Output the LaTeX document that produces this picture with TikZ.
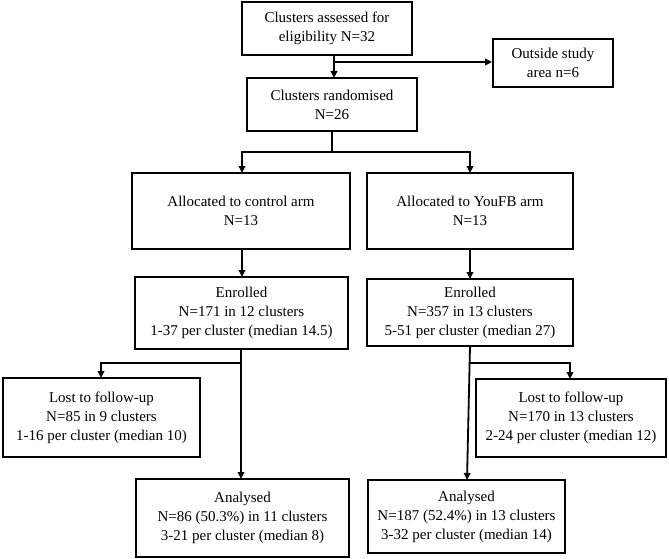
\documentclass[tikz,border=0pt]{standalone}
\usepackage{fontspec}
\setmainfont{Liberation Serif}
\usetikzlibrary{arrows.meta}
\begin{document}
\begin{tikzpicture}[x=1pt,y=-1pt,
  bx/.style={draw,line width=1.8pt,align=center,inner sep=0pt,font=\fontsize{15}{19}\selectfont},
  ar/.style={line width=1.8pt,-{Triangle[length=7pt,width=6.5pt]}},
  ln/.style={line width=1.8pt}]
\useasboundingbox (0,0) rectangle (669,559);
\newcommand\bxat[6]{\node[bx,minimum width=#4-#2,minimum height=#5-#3] (#1) at ({(#2+#4)/2},{(#3+#5)/2}) {#6};}
\bxat{a}{242}{2}{412}{55}{Clusters assessed for\\eligibility N=32}
\bxat{o}{493}{39}{613}{87}{Outside study\\area n=6}
\bxat{r}{247}{78}{417}{131}{Clusters randomised\\N=26}
\bxat{cl}{132}{173}{350}{249}{Allocated to control arm\\N=13}
\bxat{yf}{367}{173}{573}{249}{Allocated to YouFB arm\\N=13}
\bxat{el}{135}{277}{348}{349}{Enrolled\\N=171 in 12 clusters\\1-37 per cluster (median 14.5)}
\bxat{er}{367}{279}{573}{346}{Enrolled\\N=357 in 13 clusters\\5-51 per cluster (median 27)}
\bxat{ll}{3}{378}{200}{457}{Lost to follow-up\\N=85 in 9 clusters\\1-16 per cluster (median 10)}
\bxat{lr}{476}{379}{666}{457}{Lost to follow-up\\N=170 in 13 clusters\\2-24 per cluster (median 12)}
\bxat{al}{136}{479}{349}{557}{Analysed\\N=86 (50.3\%) in 11 clusters\\3-21 per cluster (median 8)}
\bxat{ar}{368}{480}{565}{553}{Analysed\\N=187 (52.4\%) in 13 clusters\\3-32 per cluster (median 14)}
\coordinate (j1) at (334,62);
\coordinate (j2) at (332,152);
\coordinate (j3) at (241,363);
\coordinate (j4) at (470,363);
\draw[ar] (334,55) -- (334,78);
\draw[ar] (j1) -- (o.west|-j1);
\draw[ln] (r.south-|j2) -- (j2);
\draw[ar] (j2) -| (242,173);
\draw[ar] (j2) -| (470,173);
\draw[ar] (242,249) -- (242,277);
\draw[ar] (470,249) -- (470,279);
\draw[ar] (241,349) -- (241,479);
\draw[ar] (j3) -| (101,378);
\draw[ar] (470,346) -- (467,480);
\draw[ar] (469.6,363) -| (570,379);
\end{tikzpicture}
\end{document}
